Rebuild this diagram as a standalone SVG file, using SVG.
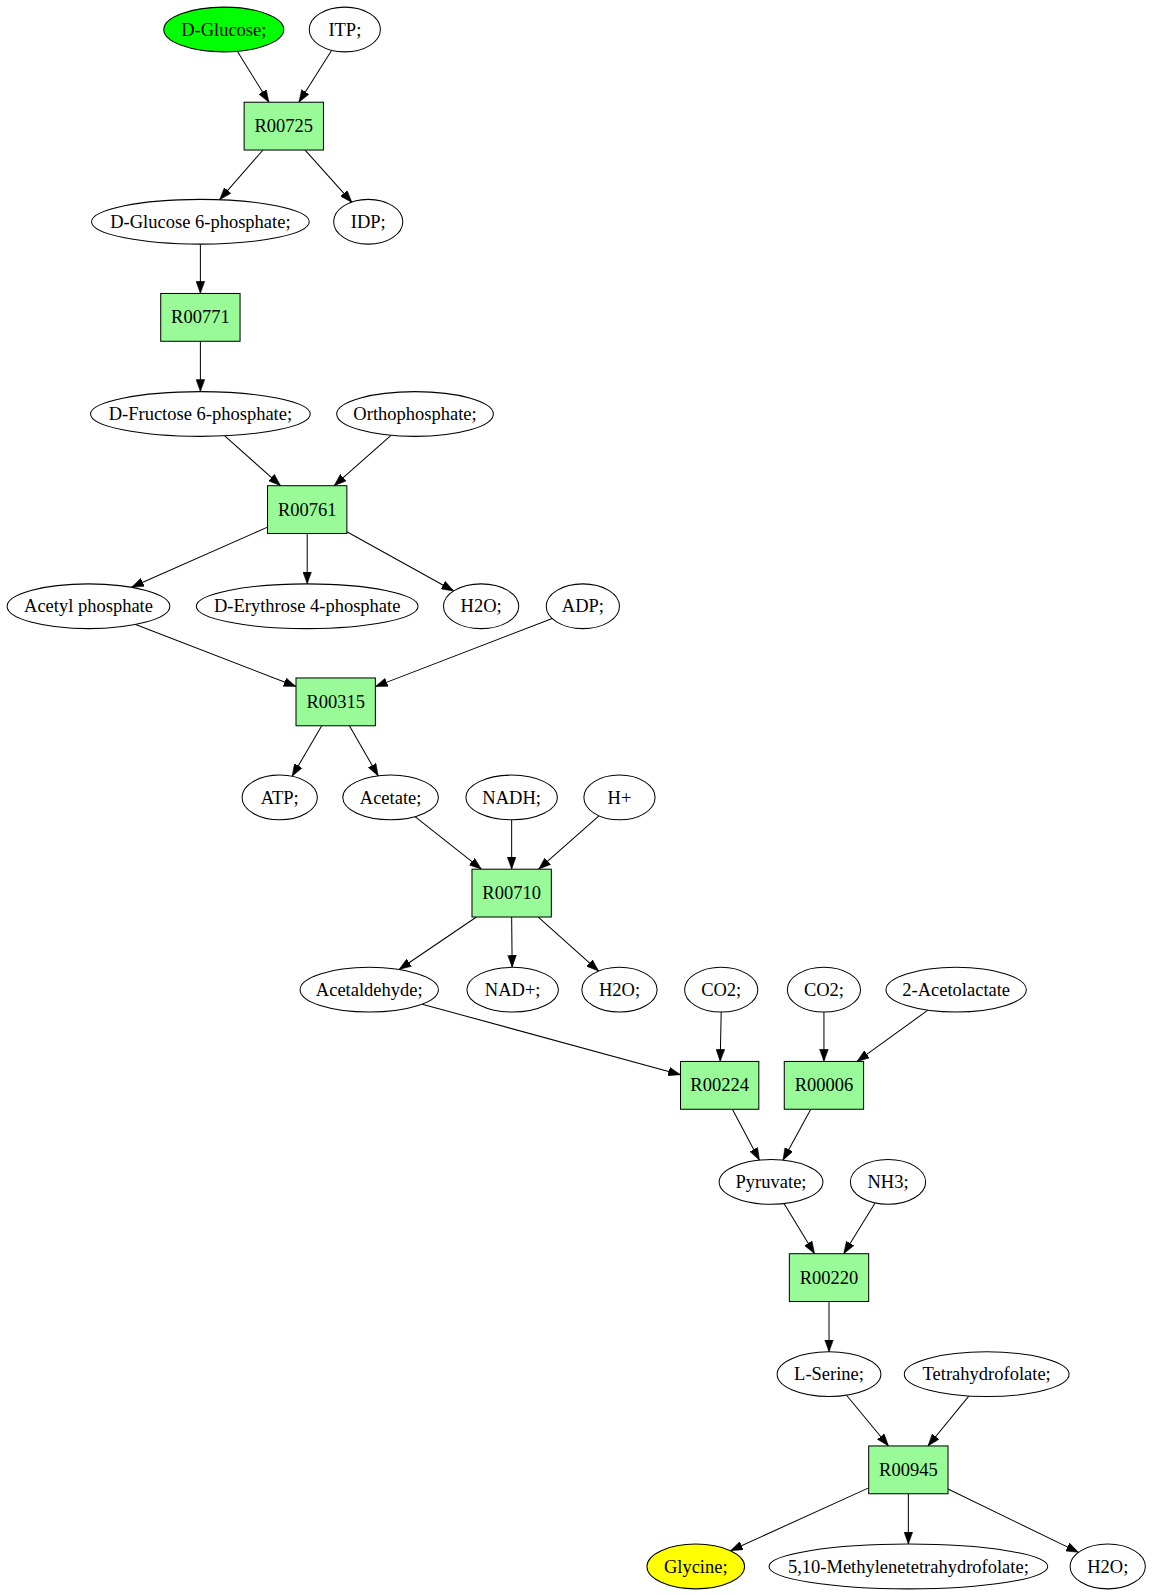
<svg xmlns="http://www.w3.org/2000/svg" width="1153" height="1595" viewBox="0 0 1153 1595">
<style>
  .cmp ellipse { fill: #ffffff; stroke: #000000; stroke-width: 1; }
  .rxn rect { fill: #98fb98; stroke: #000000; stroke-width: 1; }
  text { font-family: "Liberation Serif", "Times New Roman", serif; font-size: 18.2px; fill: #000000; text-anchor: middle; }
  #edges line { stroke: #000000; stroke-width: 1; fill: none; marker-end: url(#arrow); }
</style>
<defs>
  <marker id="arrow" markerUnits="userSpaceOnUse" markerWidth="12" markerHeight="9" refX="12" refY="4.3" orient="auto" viewBox="0 0 12 8.6">
    <path d="M0,0 L12,4.3 L0,8.6 z" fill="#000000" stroke="#000000" stroke-width="0.5"/>
  </marker>
</defs>
<rect x="0" y="0" width="1153" height="1595" fill="#ffffff"/>
<g transform="scale(1.0172)">
  <g id="edges">
    <line x1="233.3" y1="50.4" x2="264.4" y2="100.5"/>
    <line x1="326.1" y1="49.4" x2="293.8" y2="100.5"/>
    <line x1="258.5" y1="147.5" x2="215.9" y2="196.3"/>
    <line x1="300" y1="147.5" x2="346" y2="199"/>
    <line x1="197" y1="240" x2="197" y2="288.5"/>
    <line x1="197" y1="335.5" x2="197" y2="385"/>
    <line x1="220.9" y1="428.4" x2="275.8" y2="477.5"/>
    <line x1="384.4" y1="427.9" x2="328.5" y2="477.5"/>
    <line x1="263" y1="518.2" x2="129.3" y2="577.3"/>
    <line x1="302" y1="524.5" x2="302" y2="574"/>
    <line x1="341" y1="522.7" x2="446" y2="581"/>
    <line x1="133.3" y1="613.9" x2="291" y2="674.9"/>
    <line x1="543.5" y1="607.7" x2="369" y2="675"/>
    <line x1="316.3" y1="713.5" x2="287.2" y2="763.2"/>
    <line x1="343.5" y1="713.5" x2="371.8" y2="762.8"/>
    <line x1="408" y1="802.9" x2="473.3" y2="854.5"/>
    <line x1="503" y1="806" x2="503" y2="854.5"/>
    <line x1="588.8" y1="802" x2="529.5" y2="854.5"/>
    <line x1="468.4" y1="901.5" x2="392.3" y2="953.1"/>
    <line x1="503" y1="901.5" x2="503.5" y2="951"/>
    <line x1="529.2" y1="901.5" x2="588.5" y2="954.7"/>
    <line x1="415" y1="987.2" x2="669" y2="1056.5"/>
    <line x1="709" y1="995" x2="708" y2="1043.5"/>
    <line x1="810" y1="995" x2="810" y2="1043.5"/>
    <line x1="912.2" y1="993.1" x2="842.5" y2="1043.5"/>
    <line x1="720" y1="1090.5" x2="746.6" y2="1140.6"/>
    <line x1="797.1" y1="1090.5" x2="769.7" y2="1140.6"/>
    <line x1="770.9" y1="1183.3" x2="800.8" y2="1232.5"/>
    <line x1="860.3" y1="1182.6" x2="829.5" y2="1232.5"/>
    <line x1="815" y1="1279.5" x2="815" y2="1329"/>
    <line x1="832.2" y1="1371.7" x2="873.5" y2="1421.5"/>
    <line x1="952.4" y1="1372.5" x2="912.3" y2="1421.5"/>
    <line x1="854" y1="1462.7" x2="718.1" y2="1524.5"/>
    <line x1="893" y1="1468.5" x2="893" y2="1518"/>
    <line x1="932" y1="1463.9" x2="1060.3" y2="1526.1"/>
  </g>

  <g id="c_dglucose" class="cmp"><ellipse cx="220" cy="29" rx="59" ry="22" style="fill:#00ff00"/><text x="220" y="35">D-Glucose;</text></g>
  <g id="c_itp" class="cmp"><ellipse cx="339" cy="29" rx="35" ry="22"/><text x="339" y="35">ITP;</text></g>
  <g id="r_R00725" class="rxn"><rect x="240" y="100.5" width="78" height="47"/><text x="279" y="130">R00725</text></g>
  <g id="c_g6p" class="cmp"><ellipse cx="197" cy="218" rx="107" ry="22"/><text x="197" y="224">D-Glucose 6-phosphate;</text></g>
  <g id="c_idp" class="cmp"><ellipse cx="362" cy="218" rx="34" ry="22"/><text x="362" y="224">IDP;</text></g>
  <g id="r_R00771" class="rxn"><rect x="158" y="288.5" width="78" height="47"/><text x="197" y="318">R00771</text></g>
  <g id="c_f6p" class="cmp"><ellipse cx="197" cy="407" rx="108" ry="22"/><text x="197" y="413">D-Fructose 6-phosphate;</text></g>
  <g id="c_ortho" class="cmp"><ellipse cx="408" cy="407" rx="77" ry="22"/><text x="408" y="413">Orthophosphate;</text></g>
  <g id="r_R00761" class="rxn"><rect x="263" y="477.5" width="78" height="47"/><text x="302" y="507">R00761</text></g>
  <g id="c_acetylp" class="cmp"><ellipse cx="87" cy="596" rx="80" ry="22"/><text x="87" y="602">Acetyl phosphate</text></g>
  <g id="c_e4p" class="cmp"><ellipse cx="302" cy="596" rx="109" ry="22"/><text x="302" y="602">D-Erythrose 4-phosphate</text></g>
  <g id="c_h2o_1" class="cmp"><ellipse cx="473" cy="596" rx="37" ry="22"/><text x="473" y="602">H2O;</text></g>
  <g id="c_adp" class="cmp"><ellipse cx="573" cy="596" rx="36" ry="22"/><text x="573" y="602">ADP;</text></g>
  <g id="r_R00315" class="rxn"><rect x="291" y="666.5" width="78" height="47"/><text x="330" y="696">R00315</text></g>
  <g id="c_atp" class="cmp"><ellipse cx="275" cy="784" rx="37" ry="22"/><text x="275" y="790">ATP;</text></g>
  <g id="c_acetate" class="cmp"><ellipse cx="384" cy="784" rx="47" ry="22"/><text x="384" y="790">Acetate;</text></g>
  <g id="c_nadh" class="cmp"><ellipse cx="503" cy="784" rx="45" ry="22"/><text x="503" y="790">NADH;</text></g>
  <g id="c_hplus" class="cmp"><ellipse cx="609" cy="784" rx="35" ry="22"/><text x="609" y="790">H+</text></g>
  <g id="r_R00710" class="rxn"><rect x="464" y="854.5" width="78" height="47"/><text x="503" y="884">R00710</text></g>
  <g id="c_acetaldehyde" class="cmp"><ellipse cx="363" cy="973" rx="68" ry="22"/><text x="363" y="979">Acetaldehyde;</text></g>
  <g id="c_nadplus" class="cmp"><ellipse cx="504" cy="973" rx="45" ry="22"/><text x="504" y="979">NAD+;</text></g>
  <g id="c_h2o_2" class="cmp"><ellipse cx="609" cy="973" rx="37" ry="22"/><text x="609" y="979">H2O;</text></g>
  <g id="c_co2_1" class="cmp"><ellipse cx="709" cy="973" rx="36" ry="22"/><text x="709" y="979">CO2;</text></g>
  <g id="c_co2_2" class="cmp"><ellipse cx="810" cy="973" rx="36" ry="22"/><text x="810" y="979">CO2;</text></g>
  <g id="c_acetolactate" class="cmp"><ellipse cx="940" cy="973" rx="69" ry="22"/><text x="940" y="979">2-Acetolactate</text></g>
  <g id="r_R00224" class="rxn"><rect x="669" y="1043.5" width="77" height="47"/><text x="707.5" y="1073">R00224</text></g>
  <g id="r_R00006" class="rxn"><rect x="771" y="1043.5" width="78" height="47"/><text x="810" y="1073">R00006</text></g>
  <g id="c_pyruvate" class="cmp"><ellipse cx="758" cy="1162" rx="51" ry="22"/><text x="758" y="1168">Pyruvate;</text></g>
  <g id="c_nh3" class="cmp"><ellipse cx="873" cy="1162" rx="37" ry="22"/><text x="873" y="1168">NH3;</text></g>
  <g id="r_R00220" class="rxn"><rect x="776" y="1232.5" width="78" height="47"/><text x="815" y="1262">R00220</text></g>
  <g id="c_serine" class="cmp"><ellipse cx="815" cy="1351" rx="51" ry="22"/><text x="815" y="1357">L-Serine;</text></g>
  <g id="c_thf" class="cmp"><ellipse cx="970" cy="1351" rx="81" ry="22"/><text x="970" y="1357">Tetrahydrofolate;</text></g>
  <g id="r_R00945" class="rxn"><rect x="854" y="1421.5" width="78" height="47"/><text x="893" y="1451">R00945</text></g>
  <g id="c_glycine" class="cmp"><ellipse cx="684" cy="1540" rx="48" ry="22" style="fill:#ffff00"/><text x="684" y="1546">Glycine;</text></g>
  <g id="c_methylene_thf" class="cmp"><ellipse cx="893" cy="1540" rx="137" ry="22"/><text x="893" y="1546">5,10-Methylenetetrahydrofolate;</text></g>
  <g id="c_h2o_3" class="cmp"><ellipse cx="1089" cy="1540" rx="37" ry="22"/><text x="1089" y="1546">H2O;</text></g>
</g>
</svg>
